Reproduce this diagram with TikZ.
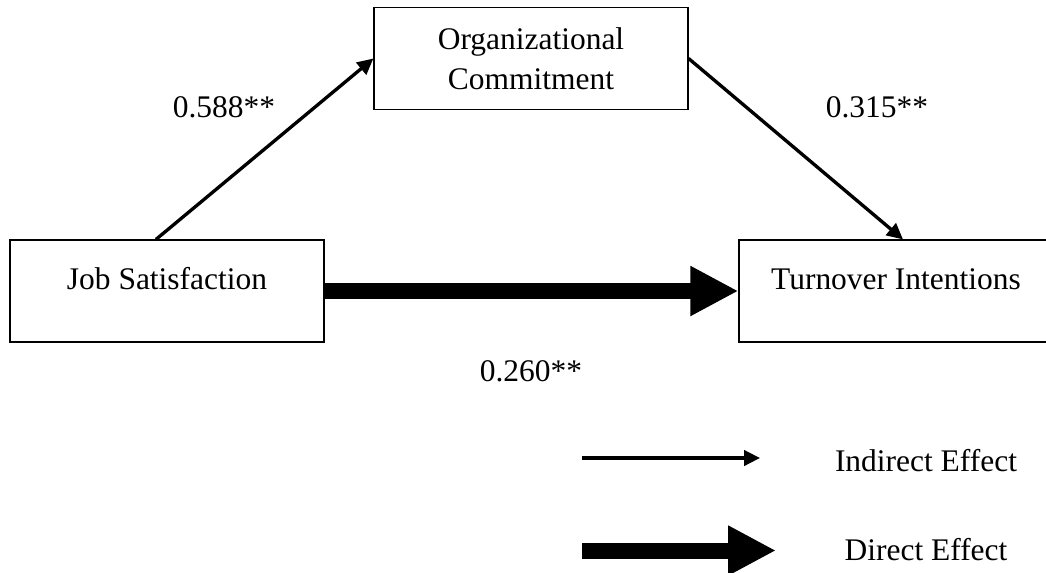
\documentclass[tikz,border=0pt]{standalone}
\usepackage{fontspec}
\setmainfont{Liberation Serif}
\usetikzlibrary{arrows.meta}
\tikzset{
  box/.style={draw=black, line width=0.9pt, inner sep=0pt, minimum width=235.5pt, minimum height=76.5pt,
    font=\fontsize{23.6pt}{30pt}\selectfont},
  oneline/.style={text height=16pt, text depth=19pt},
  lbl/.style={anchor=base, inner sep=0pt, font=\fontsize{23.6pt}{30pt}\selectfont},
  thin/.style={line width=2.5pt, -{Triangle[length=12pt, width=11.5pt]}},
  thick/.style={line width=12pt, -{Triangle[length=36pt, width=35pt]}}
}
\begin{document}
\begin{tikzpicture}[x=0.75pt, y=-0.75pt]
\useasboundingbox (0,0) rectangle (1046,572);
\node[box, align=center] (oc) at (531,58.5) {Organizational\\Commitment};
\node[box, oneline] (js) at (167,291) {Job Satisfaction};
\node[box, oneline] (ti) at (896,291) {Turnover Intentions};
\draw[thin] ([xshift=-8.25pt]js.north) -- (oc.west);
\draw[thin] (oc.east) -- ([xshift=5.25pt]ti.north);
\draw[thick] (js.east) -- (ti.west);
\node[lbl] (l1) at (224,117) {0.588**};
\node[lbl] (l2) at (877,117) {0.315**};
\node[lbl] (l3) at (531,381) {0.260**};
\coordinate (ia) at (582,458);
\coordinate (ib) at (760,458);
\coordinate (da) at (582,550.5);
\coordinate (db) at (776,550.5);
\draw[thin] (ia) -- (ib);
\draw[thick] (da) -- (db);
\node[lbl] (ie) at (926,471) {Indirect Effect};
\node[lbl] (de) at (926,560) {Direct Effect};
\end{tikzpicture}
\end{document}
